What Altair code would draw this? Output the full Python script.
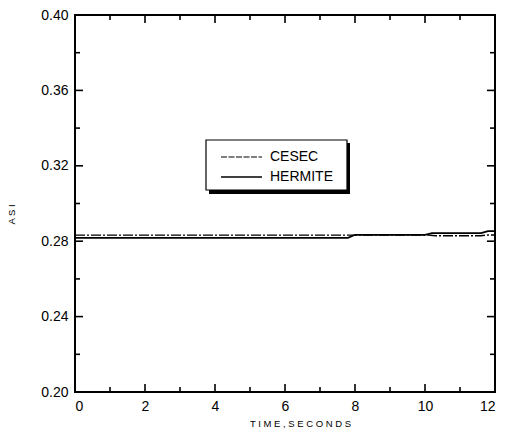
import altair as alt
import pandas as pd

# Data
hermite_t = [0.0, 7.8, 8.0, 10.0, 10.2, 11.6, 11.8, 12.0]
hermite_v = [0.2818, 0.2818, 0.2834, 0.2834, 0.2843, 0.2843, 0.2853, 0.2853]
cesec_t = [0.0, 10.1, 10.3, 11.6, 11.8, 12.0]
cesec_v = [0.2832, 0.2832, 0.2829, 0.2829, 0.2833, 0.2833]

x_major = [0, 2, 4, 6, 8, 10, 12]
x_minor = [1, 3, 5, 7, 9, 11]
y_major = [0.20, 0.24, 0.28, 0.32, 0.36, 0.40]
y_minor = [0.22, 0.26, 0.30, 0.34, 0.38]

W, H = 420, 377
FONT = "Liberation Sans"

xs = alt.Scale(domain=[0, 12], nice=False, zero=False)
ys = alt.Scale(domain=[0.20, 0.40], nice=False, zero=False)

x_axis = alt.Axis(
    values=x_major, ticks=False, domain=False, grid=False, format="d",
    labelFont=FONT, labelFontSize=14, labelColor="black", labelPadding=7,
    title="T I M E , S E C O N D S", titleFont=FONT, titleFontSize=9.5, titleFontWeight="normal",
    titleColor="black", titlePadding=5, titleX=225,
)
y_axis = alt.Axis(
    values=y_major, ticks=False, domain=False, grid=False, format=".2f",
    labelFont=FONT, labelFontSize=14, labelColor="black", labelPadding=7,
    title="A S I", titleFont=FONT, titleFontSize=9.5, titleFontWeight="normal",
    titleColor="black", titlePadding=24, titleY=199,
)

def X(field):
    return alt.X(field, type="quantitative", scale=xs, axis=x_axis)

def Y(field):
    return alt.Y(field, type="quantitative", scale=ys, axis=y_axis)

cesec_df = pd.DataFrame({"t": cesec_t, "v": cesec_v})
hermite_df = pd.DataFrame({"t": hermite_t, "v": hermite_v})

cesec = alt.Chart(cesec_df).mark_line(
    color="black", strokeWidth=1.4, strokeDash=[10, 2, 2, 2]
).encode(x=X("t"), y=Y("v"))

hermite = alt.Chart(hermite_df).mark_line(
    color="black", strokeWidth=1.8
).encode(x=X("t"), y=Y("v"))

def xticks(vals, length):
    d = pd.DataFrame({"t": vals})
    bottom = alt.Chart(d).mark_rule(color="black", strokeWidth=1.6).encode(
        x=X("t"), y=alt.value(H), y2=alt.value(H - length))
    top = alt.Chart(d).mark_rule(color="black", strokeWidth=1.6).encode(
        x=X("t"), y=alt.value(0), y2=alt.value(length))
    return [bottom, top]

def yticks(vals, length):
    d = pd.DataFrame({"v": vals})
    left = alt.Chart(d).mark_rule(color="black", strokeWidth=1.6).encode(
        y=Y("v"), x=alt.value(0), x2=alt.value(length))
    right = alt.Chart(d).mark_rule(color="black", strokeWidth=1.6).encode(
        y=Y("v"), x=alt.value(W), x2=alt.value(W - length))
    return [left, right]

ticks = xticks(x_major, 8) + xticks(x_minor, 5) + yticks(y_major, 8) + yticks(y_minor, 5)

# Legend box (drawn manually to reproduce the shadowed frame)
legend_names = ["CESEC", "HERMITE"]
one = pd.DataFrame({"a": [0]})
shadow = alt.Chart(one).mark_rect(color="black").encode(
    x=alt.value(134), x2=alt.value(275), y=alt.value(128), y2=alt.value(179))
box = alt.Chart(one).mark_rect(fill="white", stroke="black", strokeWidth=1.2).encode(
    x=alt.value(131), x2=alt.value(272), y=alt.value(125), y2=alt.value(175))
leg_c = alt.Chart(one).mark_rule(color="black", strokeWidth=1.2, strokeDash=[6, 1.5]).encode(
    x=alt.value(146), x2=alt.value(187), y=alt.value(142))
leg_h = alt.Chart(one).mark_rule(color="black", strokeWidth=1.4).encode(
    x=alt.value(146), x2=alt.value(187), y=alt.value(162))
txt_c = alt.Chart(one).mark_text(text=legend_names[0], font=FONT, fontSize=14, align="left",
                                 baseline="middle", color="black").encode(
    x=alt.value(195), y=alt.value(142))
txt_h = alt.Chart(one).mark_text(text=legend_names[1], font=FONT, fontSize=14, align="left",
                                 baseline="middle", color="black").encode(
    x=alt.value(195), y=alt.value(162))

chart = alt.layer(
    cesec, hermite, *ticks, shadow, box, leg_c, leg_h, txt_c, txt_h
).properties(
    width=W, height=H,
    autosize=alt.AutoSizeParams(type="none"),
    padding={"left": 75, "top": 15, "right": 11, "bottom": 48},
    background="white",
).configure_view(stroke="black", strokeWidth=2)

chart.save("out.html", embed_options={"renderer": "svg", "actions": False})
